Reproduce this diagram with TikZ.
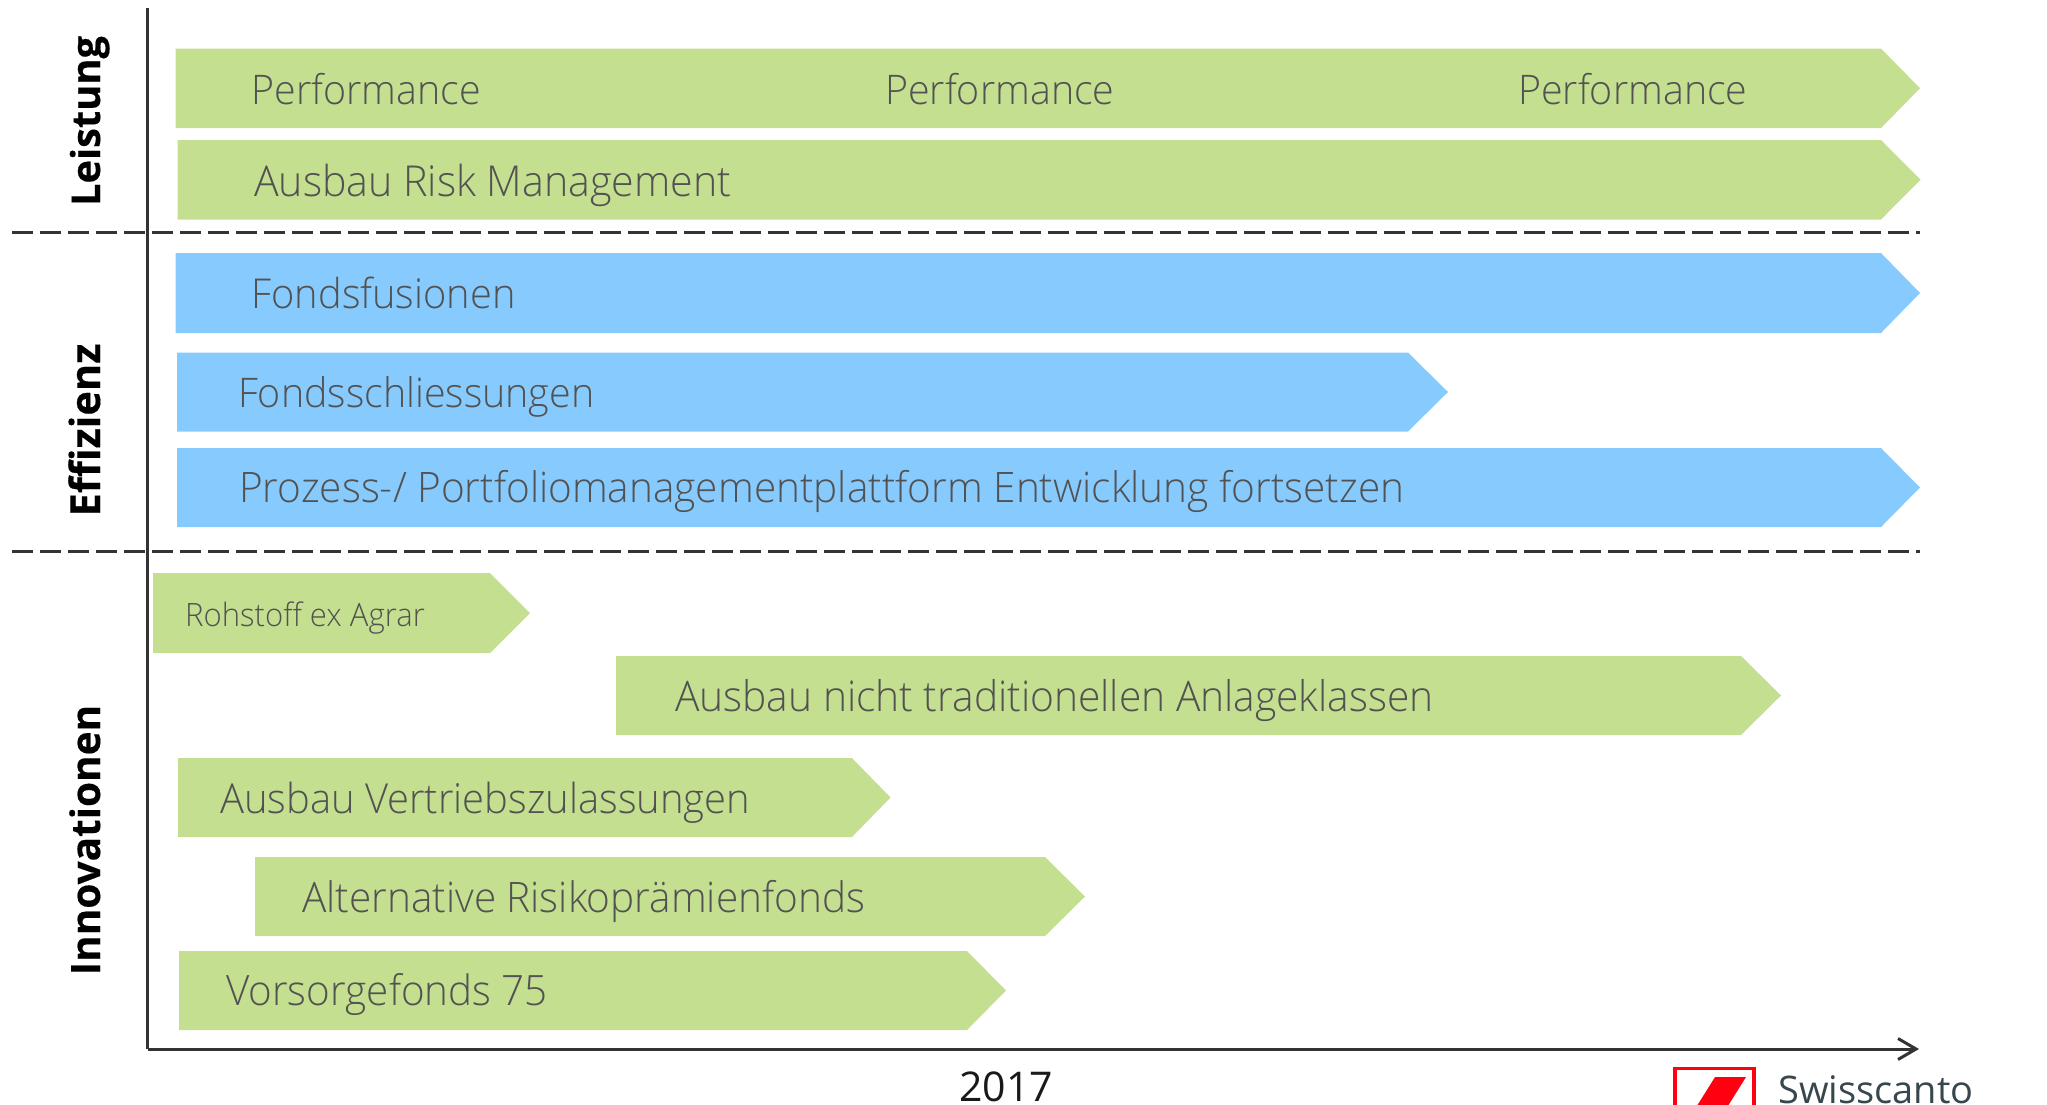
\documentclass[tikz,border=0pt]{standalone}
\usepackage{fontspec}
\setmainfont{Open Sans Light}[FakeStretch=0.965,BoldFont={Open Sans Semibold}]
\newfontfamily\groupfont{Open Sans}[FakeBold=0.3]
\newfontfamily\brandfont{Open Sans}
\usetikzlibrary{arrows.meta}
\definecolor{bargreen}{HTML}{C5DF90}
\definecolor{barblue}{HTML}{87CBFE}
\definecolor{bartext}{HTML}{525252}
\definecolor{axisc}{HTML}{333333}
\definecolor{logored}{HTML}{FF0010}
\definecolor{logotext}{HTML}{37474D}
\tikzset{
  bartxt/.style={anchor=base west,inner sep=0pt,text=bartext,font=\fontsize{#1}{#1}\selectfont},
  bartxt/.default=42,
  grouptxt/.style={rotate=90,anchor=base,inner sep=0pt,text=black,font=\fontsize{#1}{#1}\groupfont\bfseries},
  axisline/.style={draw=axisc,line width=3pt},
  sepline/.style={draw=axisc,line width=3pt,dash pattern=on 21pt off 7pt},
}
\newcommand{\chevbar}[6]{% colour, x0, ytop, ybot, tip, shoulder
  \fill[#1] (#2,#3) -- (#6,#3) -- (#5,{(#3+#4)/2}) -- (#6,#4) -- (#2,#4) -- cycle;}
\begin{document}
\begin{tikzpicture}[x=1pt,y=-1pt]
\useasboundingbox (0,0) rectangle (2047,1104);
\coordinate (axtop) at (147.5,8);
\coordinate (axorigin) at (147.5,1049);
\coordinate (axend) at (1919,1049);
\coordinate (sepaL) at (12,232.5);
\coordinate (sepaR) at (1920,232.5);
\coordinate (sepbL) at (12,551);
\coordinate (sepbR) at (1920,551);

\chevbar{bargreen}{175.5}{48.5}{128}{1920}{1881}
\chevbar{bargreen}{177.5}{140}{219.5}{1920.5}{1881}
\chevbar{barblue}{175.5}{253}{333}{1920}{1881}
\chevbar{barblue}{177}{352.5}{431.5}{1448}{1408}
\chevbar{barblue}{177}{448}{527}{1920}{1881}
\chevbar{bargreen}{153}{573}{653}{530}{490}
\chevbar{bargreen}{616}{656}{735}{1781}{1741}
\chevbar{bargreen}{178}{758}{837}{890.5}{852}
\chevbar{bargreen}{255}{857}{936}{1085}{1045}
\chevbar{bargreen}{179}{951}{1030}{1006}{967}

\path[sepline] (sepaL) -- (sepaR);
\path[sepline] (sepbL) -- (sepbR);
\path[axisline] (axtop) -- (axorigin);
\path[axisline,-{Straight Barb[length=18pt,width=21pt,line width=3pt]}] (axorigin) -- (axend);

\node[bartxt=40.8] (perfa) at (251.5,104) {Performance};
\node[bartxt=40.8] (perfb) at (885,104) {Performance};
\node[bartxt=40.8] (perfc) at (1518,104) {Performance};
\node[bartxt=42.6] (risk) at (254,196) {Ausbau Risk Management};
\node[bartxt=41.2] (fusion) at (251.5,308) {Fondsfusionen};
\node[bartxt=40.8] (schliess) at (238,407) {Fondsschliessungen};
\node[bartxt] (prozess) at (239,502) {Prozess-/ Portfoliomanagementplattform Entwicklung fortsetzen};
\node[bartxt=32.2] (rohstoff) at (185,626) {Rohstoff ex Agrar};
\node[bartxt=42.2] (nicht) at (675,711) {Ausbau nicht traditionellen Anlageklassen};
\node[bartxt=41.4] (vertrieb) at (220,813) {Ausbau Vertriebszulassungen};
\node[bartxt] (alt) at (302,912) {Alternative Risikoprämienfonds};
\node[bartxt=41.8] (vors) at (226,1005) {Vorsorgefonds 75};

\node[grouptxt=39.8] (leistung) at (100,121) {Leistung};
\node[grouptxt=41.5] (effizienz) at (100,430) {Effizienz};
\node[grouptxt=40.5] (innov) at (100,840) {Innovationen};

\node[anchor=base,inner sep=0pt,text=black!90,font=\fontsize{41}{41}\brandfont] (year) at (1006,1101) {2017};

\begin{scope}
\clip (1600,1000) rectangle (2047,1104);
\draw[logored,line width=3.5pt] (1675,1068.5) rectangle (1754,1120);
\fill[logored] (1715,1077) -- (1746,1077) -- (1716,1125) -- (1685,1125) -- cycle;
\node[anchor=base west,inner sep=0pt,text=logotext,font=\fontsize{38}{38}\brandfont] (brand) at (1778,1103) {Swisscanto};
\end{scope}
\end{tikzpicture}
\end{document}
